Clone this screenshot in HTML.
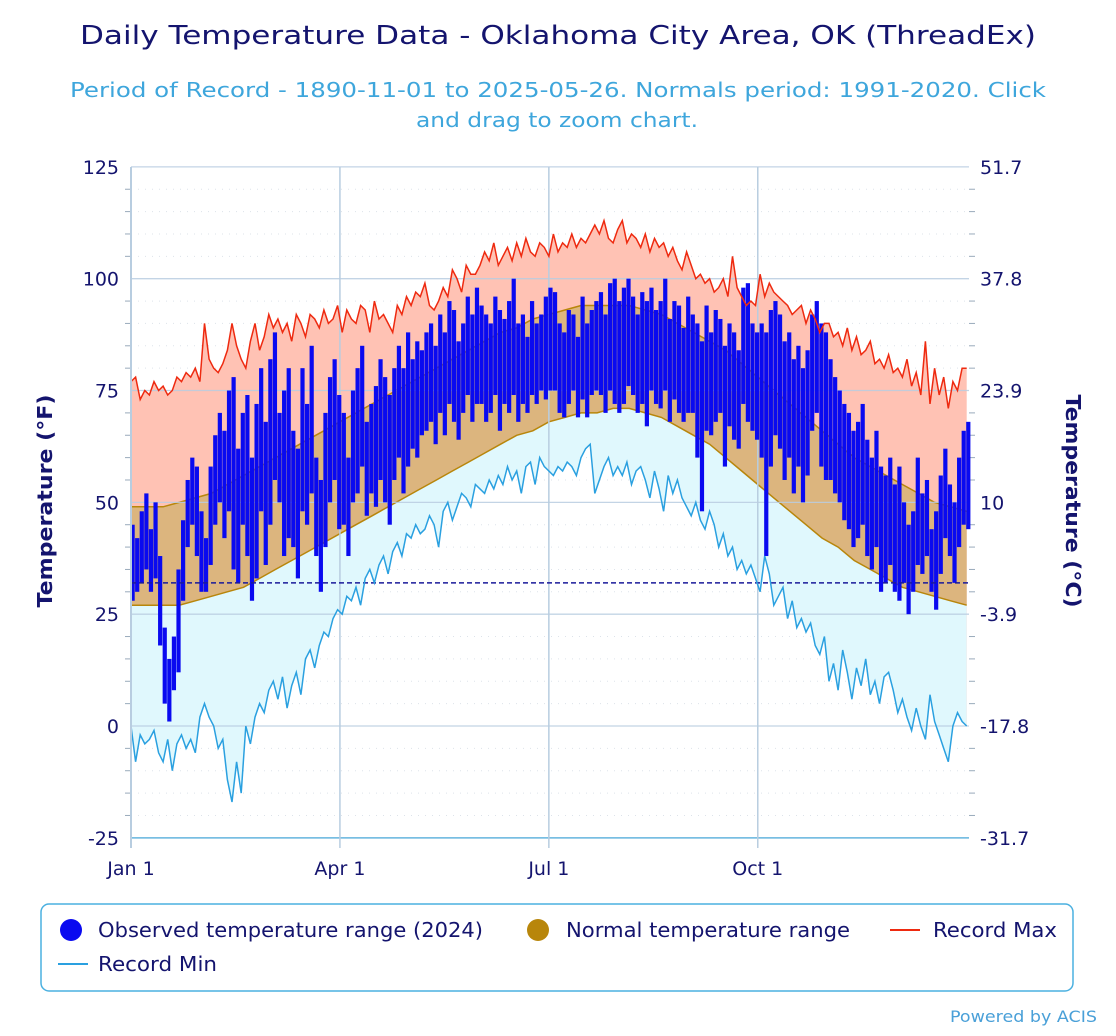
<!DOCTYPE html>
<html><head><meta charset="utf-8">
<style>
body{margin:0;background:#fff;font-family:"DejaVu Sans","Liberation Sans",sans-serif;}
svg text{font-family:"DejaVu Sans","Liberation Sans",sans-serif;}
</style></head>
<body>
<svg id="chart" width="1116" height="1032" viewBox="0 0 1116 1032">
<text x="80" y="44" textLength="956" lengthAdjust="spacingAndGlyphs" font-size="26" fill="#14146e">Daily Temperature Data - Oklahoma City Area, OK (ThreadEx)</text>
<text x="70" y="97" textLength="976" lengthAdjust="spacingAndGlyphs" font-size="20" fill="#3ea6dc">Period of Record - 1890-11-01 to 2025-05-26. Normals period: 1991-2020. Click</text>
<text x="416" y="127" textLength="282" lengthAdjust="spacingAndGlyphs" font-size="20" fill="#3ea6dc">and drag to zoom chart.</text>
<g id="plot"></g>
<text transform="translate(52,501) rotate(-90)" text-anchor="middle" textLength="213" lengthAdjust="spacingAndGlyphs" font-size="20" font-weight="bold" fill="#14146e">Temperature (°F)</text>
<text transform="translate(1066,501) rotate(90)" text-anchor="middle" textLength="213" lengthAdjust="spacingAndGlyphs" font-size="20" font-weight="bold" fill="#14146e">Temperature (°C)</text>
<g>
<rect x="41" y="904" width="1032" height="87" rx="8" fill="#fff" stroke="#4ab0e0" stroke-width="1.5"/>
<g><circle cx="71" cy="930" r="11" fill="#0a0af0"/><text x="98" y="937" textLength="385" lengthAdjust="spacingAndGlyphs" font-size="20" fill="#14146e">Observed temperature range (2024)</text></g>
<g><circle cx="538" cy="930" r="11" fill="#b8860b"/><text x="566" y="937" textLength="284" lengthAdjust="spacingAndGlyphs" font-size="20" fill="#14146e">Normal temperature range</text></g>
<g><line x1="890" y1="930" x2="920" y2="930" stroke="#ee2a10" stroke-width="2"/><text x="933" y="937" textLength="124" lengthAdjust="spacingAndGlyphs" font-size="20" fill="#14146e">Record Max</text></g>
<g><line x1="58" y1="964" x2="88" y2="964" stroke="#2aa0e0" stroke-width="2"/><text x="98" y="971" textLength="119" lengthAdjust="spacingAndGlyphs" font-size="20" fill="#14146e">Record Min</text></g>
</g>
<text x="950" y="1022" textLength="147" lengthAdjust="spacingAndGlyphs" font-size="16" fill="#4aa0d8">Powered by ACIS</text>
</svg>
<script>
const recMax=[77,78,73,75,74,77,75,76,74,75,78,77,79,78,80,77,
90,82,80,79,81,84,90,85,82,80,86,90,84,87,
92,89,91,88,90,86,92,90,87,92,91,89,93,90,91,94,
88,93,91,90,94,93,88,95,91,92,90,88,94,92,96,
94,97,96,99,94,93,95,98,96,102,100,97,103,101,101,
103,106,104,108,103,105,107,104,108,105,109,106,105,108,107,
105,110,106,108,107,110,107,109,108,110,112,110,113,109,108,111,
113,108,110,109,107,110,106,109,107,108,105,107,104,102,106,
103,100,101,99,100,97,98,100,96,105,98,96,94,95,94,
101,96,99,97,96,95,94,92,93,94,90,93,91,88,90,
90,87,88,85,89,84,87,83,84,86,81,82,80,83,79,
80,78,82,76,79,74,86,72,80,74,78,71,77,75,80,80];
const recMin=[0,-8,-2,-4,-3,-1,-6,-8,-3,-10,-4,-2,-5,-3,-6,2,
5,2,0,-5,-3,-12,-17,-8,-15,0,-4,2,5,3,
8,10,6,11,4,9,12,7,15,17,13,18,21,20,24,26,
25,29,28,31,27,33,35,32,36,38,34,39,41,38,43,
42,45,43,44,47,45,40,48,50,46,49,52,51,49,54,
53,52,55,53,56,54,58,55,57,52,58,59,54,60,58,
57,56,58,57,59,58,56,60,62,63,52,55,58,60,56,58,
56,59,54,57,58,55,51,57,53,48,56,52,55,51,49,
47,50,46,44,48,45,40,43,38,40,35,37,34,36,33,
30,38,34,27,29,31,24,28,22,24,21,23,18,16,20,
10,14,8,17,12,6,13,9,15,7,10,5,11,12,8,
3,6,2,-1,4,0,-3,7,1,-2,-5,-8,0,3,1,0];
const normHigh=[49,49,49,50,51,52,54,56,58,60,62,64,66,68,70,72,74,76,78,80,82,84,86,88,89,91,92,93,94,94,94,94,93,92,90,88,86,84,81,78,75,72,69,66,63,60,58,56,54,52,50,49,48];
const normLow=[27,27,27,27,28,29,30,31,33,35,37,39,41,43,45,47,49,51,53,55,57,59,61,63,65,66,68,69,70,70,71,71,70,69,67,65,63,60,57,54,51,48,45,42,40,37,35,33,31,30,29,28,27];
const obsHigh=[45,42,48,52,44,50,38,22,15,20,35,46,55,60,58,48,
42,58,65,70,66,75,78,62,70,74,60,72,80,68,
82,88,70,75,80,66,62,80,72,85,60,55,70,78,82,74,
70,60,75,80,85,68,72,76,82,78,74,80,85,80,88,
82,86,84,88,90,85,92,88,95,93,86,90,96,92,98,
94,92,90,96,93,91,95,100,90,92,87,95,90,92,96,
98,97,90,88,93,92,87,96,90,93,95,97,92,99,100,95,
98,100,96,92,97,95,98,93,95,100,91,95,94,89,96,
92,90,86,94,88,93,91,85,90,88,84,98,99,90,88,
90,88,93,95,92,86,88,82,85,80,84,92,95,90,88,
82,78,75,72,70,66,68,72,64,60,66,58,56,60,54,
58,50,45,48,60,52,55,44,48,56,62,54,50,60,66,68];
const obsLow=[28,30,32,35,30,33,18,5,1,8,12,28,40,45,38,30,
30,36,45,50,42,48,35,32,45,38,28,33,48,36,
45,55,50,38,42,40,33,48,45,52,38,30,40,50,55,44,
45,38,50,52,58,47,52,49,55,50,45,55,60,52,58,
62,60,65,66,68,63,70,65,72,68,64,70,74,68,72,
72,68,70,74,66,72,70,74,68,72,70,74,72,75,73,
75,75,70,69,72,75,69,73,69,74,75,74,70,75,72,70,
72,76,74,70,72,67,75,72,71,75,68,73,70,68,70,
70,60,48,66,65,68,70,58,67,64,62,72,68,66,64,
60,38,58,65,62,55,60,52,58,50,56,66,70,58,55,
55,52,50,46,44,40,42,45,38,35,40,30,32,36,30,
28,32,25,30,36,34,38,30,26,34,42,38,32,40,45,44];
const fTicks=[125,100,75,50,25,0,-25];
const cTicks=["51.7","37.8","23.9","10","-3.9","-17.8","-31.7"];
const monthLabels=["Jan 1","Apr 1","Jul 1","Oct 1"];
const monthDays=[0,91,182,273];

const X0=131,DAYPX=838/365,Y0=726,DEGPX=4.473;
const xs=d=>X0+d*DAYPX;
const ys=t=>Y0-t*DEGPX;
const NS="http://www.w3.org/2000/svg";
const plot=document.getElementById('plot');
function mk(tag,attrs,parent){const e=document.createElementNS(NS,tag);for(const k in attrs)e.setAttribute(k,attrs[k]);(parent||plot).appendChild(e);return e;}

for(let t=-25;t<=125;t+=5){if(t%25===0)continue;
const l=mk('line',{x1:X0,x2:969,y1:ys(t),y2:ys(t),stroke:'#dde3ea','stroke-dasharray':'1,6'});


const tk=mk('line',{x1:X0-6,x2:X0,y1:ys(t),y2:ys(t),stroke:'#9ab'});


const tr=mk('line',{x1:969,x2:975,y1:ys(t),y2:ys(t),stroke:'#9ab'});


}

function path(pts){return pts.map((p,i)=>(i?'L':'M')+p[0].toFixed(1)+','+p[1].toFixed(1)).join('');}
const recPtsMax=recMax.map((v,i)=>[xs(Math.min(i*2,364)),ys(v)]);
const recPtsMin=recMin.map((v,i)=>[xs(Math.min(i*2,364)),ys(v)]);
const nhPts=normHigh.map((v,i)=>[xs(Math.min(i*7,365)),ys(v)]);
const nlPts=normLow.map((v,i)=>[xs(Math.min(i*7,365)),ys(v)]);

const pink=mk('path',{d:path(recPtsMax.concat(recPtsMin.slice().reverse()))+'Z',fill:'#ffc2b4'});


const cyan=mk('path',{d:path(nlPts.concat(recPtsMin.slice().reverse()))+'Z',fill:'#e0f8fd'});


const tan=mk('path',{d:path(nhPts.concat(nlPts.slice().reverse()))+'Z',fill:'#dcb57e'});


const nh=mk('path',{d:path(nhPts),fill:'none',stroke:'#b8860b','stroke-width':1.5});


const nl=mk('path',{d:path(nlPts),fill:'none',stroke:'#b8860b','stroke-width':1.5});



fTicks.forEach((t,i)=>{
const g=mk('line',{x1:X0,x2:969,y1:ys(t),y2:ys(t),stroke:t===-25?'#4aa8d8':'#b8cde0','stroke-width':t===-25?1.5:1.3,'stroke-opacity':0.85});


const lt=mk('text',{x:119,y:ys(t)+7,'text-anchor':'end','font-size':19,fill:'#14146e'});lt.textContent=t;


const rt=mk('text',{x:980,y:ys(t)+7,'font-size':19,fill:'#14146e'});rt.textContent=cTicks[i];


});
monthDays.forEach((d,i)=>{
const v=mk('line',{x1:xs(d),x2:xs(d),y1:167,y2:848,stroke:'#b8cde0','stroke-width':1.5});


const t=mk('text',{x:xs(d),y:875,'text-anchor':'middle','font-size':19,fill:'#14146e'});t.textContent=monthLabels[i];


});

obsHigh.forEach((h,i)=>{
const lo=obsLow[i];
const b=mk('rect',{x:xs(i*2)-0.5,y:ys(h),width:4.2,height:Math.max(1,ys(lo)-ys(h)),fill:'#0a0af0'});


});
const fr=mk('line',{x1:X0,x2:969,y1:ys(32),y2:ys(32),stroke:'#1a1a9a','stroke-width':1.5,'stroke-dasharray':'5,3'});


const rmx=mk('path',{d:path(recPtsMax),fill:'none',stroke:'#ee2a10','stroke-width':1.5});


const rmn=mk('path',{d:path(recPtsMin),fill:'none',stroke:'#2aa0e0','stroke-width':1.5});


const ax=mk('line',{x1:X0,x2:X0,y1:167,y2:848,stroke:'#b8cde0','stroke-width':2});


</script>
</body></html>
